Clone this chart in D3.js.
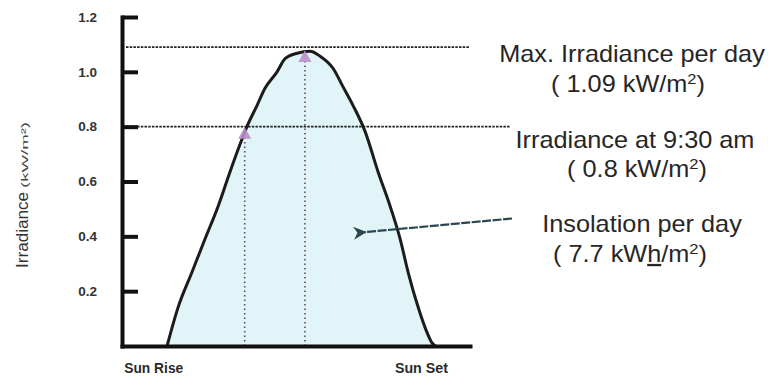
<!DOCTYPE html>
<html>
<head>
<meta charset="utf-8">
<script src="https://cdn.jsdelivr.net/npm/d3@7"></script>
<style>
  body { margin: 0; background: #fff; }
  svg { display: block; font-family: "Liberation Sans", Arial, sans-serif; }
  .note { fill: #262626; font-size: 23px; }
</style>
</head>
<body>
<svg></svg>
<script>
// irradiance curve over the day (hours, kW/m2)
var hours = [6.02, 6.51, 7.14, 7.72, 8.31, 8.84, 9.38, 9.6, 10.05, 10.41, 10.95, 11.31, 11.85, 12.43,
             12.88, 13.46, 13.91, 14.36, 14.9, 15.48, 16.02, 16.47, 16.83, 17.27, 17.68, 17.9, 18.04]
var irradiance = [0, 0.14, 0.27, 0.39, 0.51, 0.635, 0.755, 0.80, 0.877, 0.94, 1.0, 1.048, 1.068, 1.075,
                  1.057, 1.013, 0.945, 0.877, 0.782, 0.635, 0.51, 0.39, 0.268, 0.143, 0.048, 0.011, 0]

var yTicks = [0.2, 0.4, 0.6, 0.8, 1.0, 1.2]
var xTickHours = [5.4, 17.4]
var xTickLabels = ["Sun Rise", "Sun Set"]

// reference levels (max, 9:30 am) and the marked points
var refValues = [1.09, 0.8]
var markerHours = [9.5, 12.2]
var markerValues = [0.77, 1.05]

var drawChart = function()
{
  var screen = {width: 768, height: 381}
  var margins = {top: 17, left: 122, right: 298, bottom: 35}
  var width = screen.width - margins.left - margins.right
  var height = screen.height - margins.top - margins.bottom

  var svg = d3.select("svg")
              .attr("width", screen.width)
              .attr("height", screen.height)

  var xScale = d3.scaleLinear()
                 .domain([4, 19.6])
                 .range([0, width])

  var yScale = d3.scaleLinear()
                 .domain([0, 1.2])
                 .range([height, 0])

  var plot = svg.append("g")
                .attr("transform", "translate(" + margins.left + "," + margins.top + ")")

  var points = hours.map(function(h, i){ return [h, irradiance[i]] })

  var area = d3.area()
               .x(function(d){ return xScale(d[0]) })
               .y0(yScale(0))
               .y1(function(d){ return yScale(d[1]) })
               .curve(d3.curveMonotoneX)

  plot.append("path")
      .datum(points)
      .attr("d", area)
      .attr("fill", "#e1f5f8")

  // vertical dotted drops to the marked points
  plot.selectAll(".drop")
      .data(markerHours)
      .enter()
      .append("line")
      .attr("class", "drop")
      .attr("x1", function(d){ return xScale(d) })
      .attr("x2", function(d){ return xScale(d) })
      .attr("y1", yScale(0))
      .attr("y2", function(d, i){ return yScale(markerValues[i]) })
      .attr("stroke", "#5e4a6c")
      .attr("stroke-width", 1.6)
      .attr("stroke-dasharray", "1.5,3")

  // horizontal dotted reference lines
  var refEnds = [width, width + 40]
  plot.selectAll(".ref")
      .data(refValues)
      .enter()
      .append("line")
      .attr("class", "ref")
      .attr("x1", 4)
      .attr("x2", function(d, i){ return refEnds[i] })
      .attr("y1", function(d){ return yScale(d) })
      .attr("y2", function(d){ return yScale(d) })
      .attr("stroke", "#222")
      .attr("stroke-width", 1.8)
      .attr("stroke-dasharray", "2.5,1.2")

  var line = d3.line()
               .x(function(d){ return xScale(d[0]) })
               .y(function(d){ return yScale(d[1]) })
               .curve(d3.curveMonotoneX)

  plot.append("path")
      .datum(points)
      .attr("d", line)
      .attr("fill", "none")
      .attr("stroke", "#1c1c1c")
      .attr("stroke-width", 3)
      .attr("stroke-linejoin", "round")

  plot.selectAll(".marker")
      .data(markerHours)
      .enter()
      .append("path")
      .attr("class", "marker")
      .attr("d", d3.symbol(d3.symbolTriangle).size(75))
      .attr("transform", function(d, i){
        return "translate(" + xScale(d) + "," + yScale(markerValues[i]) + ")"
      })
      .attr("fill", "#bb8fc6")
      .attr("opacity", 0.9)

  // arrow to the area (insolation)
  svg.append("defs").append("marker")
     .attr("id", "head")
     .attr("viewBox", "0 0 10 10")
     .attr("refX", 2).attr("refY", 5)
     .attr("markerWidth", 6).attr("markerHeight", 6)
     .attr("orient", "auto-start-reverse")
     .append("path")
     .attr("d", "M0,5 L10,0 L7,5 L10,10 Z")
     .attr("fill", "#2a4650")

  plot.append("line")
      .attr("x1", width + 42)
      .attr("y1", yScale(0.465))
      .attr("x2", xScale(14.85))
      .attr("y2", yScale(0.415))
      .attr("stroke", "#2a4650")
      .attr("stroke-width", 2.2)
      .attr("stroke-dasharray", "9,1.5")
      .attr("marker-end", "url(#head)")

  // axes
  var yAxis = d3.axisLeft(yScale)
                .tickValues(yTicks)
                .tickFormat(d3.format(".1f"))
                .tickSizeInner(-16)
                .tickSizeOuter(0)
                .tickPadding(25)

  var gy = plot.append("g").call(yAxis)
  gy.selectAll("line").attr("stroke", "#111").attr("stroke-width", 4)
  gy.selectAll("text")
    .attr("fill", "#333")
    .style("font-size", "13.5px")
    .style("font-weight", "bold")

  var xAxis = d3.axisBottom(xScale)
                .tickValues(xTickHours)
                .tickFormat(function(d, i){ return xTickLabels[i] })
                .tickSize(0)
                .tickPadding(17)

  var gx = plot.append("g")
               .attr("transform", "translate(0," + height + ")")
               .call(xAxis)
  gx.selectAll("text")
    .attr("fill", "#2a2a2a")
    .style("font-size", "14px")
    .style("font-weight", "bold")
    .attr("textLength", function(d, i){ return i == 0 ? 59 : 53 })
    .attr("lengthAdjust", "spacingAndGlyphs")

  plot.selectAll(".domain")
      .attr("stroke", "#111")
      .attr("stroke-width", 4)
      .attr("stroke-linecap", "square")

  // y title
  var title = svg.append("g")
                 .attr("transform", "translate(28,268) rotate(-90)")
  title.append("text")
       .attr("fill", "#333")
       .style("font-size", "16px")
       .attr("textLength", 76)
       .attr("lengthAdjust", "spacingAndGlyphs")
       .text("Irradiance")
  title.append("text")
       .attr("x", 80)
       .attr("fill", "#444")
       .style("font-size", "9px")
       .attr("textLength", 66)
       .attr("lengthAdjust", "spacingAndGlyphs")
       .text("(kW/m\u00b2)")

  // notes on the right
  var note = function(cx, y, parts)
  {
    var t = svg.append("text")
               .attr("class", "note")
               .attr("text-anchor", "middle")
               .attr("transform", "translate(" + cx + "," + y + ") scale(1.1,1)")
    parts.forEach(function(p){
      var s = t.append("tspan").text(p.t)
      if (p.sup) s.attr("dy", -8).style("font-size", "15px")
      if (p.back) s.attr("dy", 8)
      if (p.u) s.style("text-decoration", "underline")
    })
  }

  note(632, 62, [{t: "Max. Irradiance per day"}])
  note(628, 92, [{t: "( 1.09 kW/m"}, {t: "2", sup: true}, {t: ")", back: true}])
  note(635, 148, [{t: "Irradiance at 9:30 am"}])
  note(637, 177, [{t: "( 0.8 kW/m"}, {t: "2", sup: true}, {t: ")", back: true}])
  note(642, 232, [{t: "Insolation per day"}])
  note(630, 262, [{t: "( 7.7 kW"}, {t: "h", u: true}, {t: "/m"}, {t: "2", sup: true}, {t: ")", back: true}])
}

drawChart()
</script>
</body>
</html>
